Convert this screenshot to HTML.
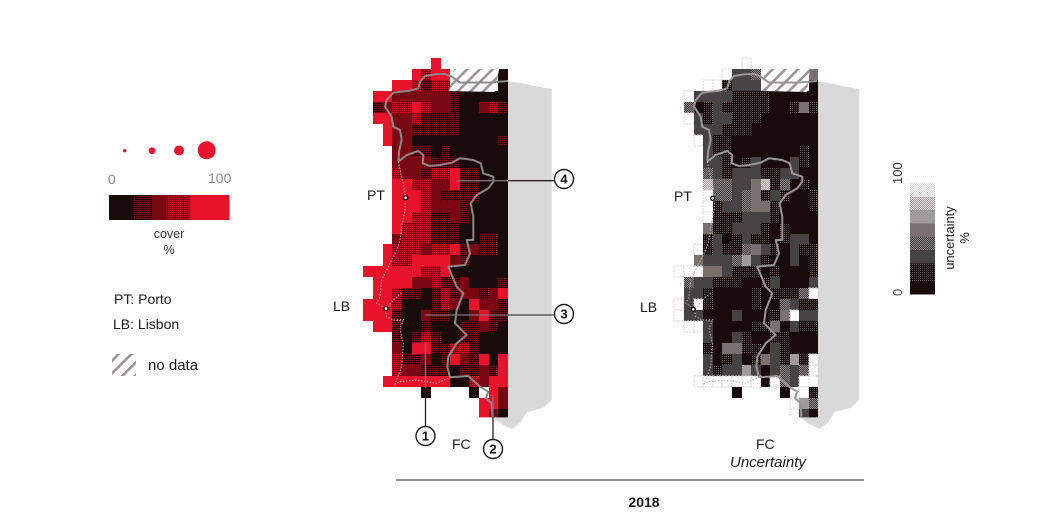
<!DOCTYPE html>
<html lang="en">
<head>
<meta charset="utf-8">
<title>Cover and uncertainty map 2018</title>
<style>
html,body{margin:0;padding:0;background:#fff;width:1052px;height:532px;overflow:hidden}
svg{display:block;font-family:"Liberation Sans",sans-serif}
</style>
</head>
<body>
<svg id="chart" xmlns="http://www.w3.org/2000/svg" width="1052" height="532" viewBox="0 0 1052 532">
<defs>
<pattern id="r1" width="2" height="2" patternUnits="userSpaceOnUse"><rect width="2" height="2" fill="#190b0b"/><rect width="1" height="1" fill="#a00a18"/></pattern>
<pattern id="r3" width="2" height="2" patternUnits="userSpaceOnUse"><rect width="2" height="2" fill="#7a0812"/><rect width="1" height="1" fill="#e8132a"/></pattern>
<pattern id="g1" width="2" height="2" patternUnits="userSpaceOnUse"><rect width="2" height="2" fill="#190b0b"/><rect width="1" height="1" fill="#5a5656"/></pattern>
<pattern id="g3" width="2" height="2" patternUnits="userSpaceOnUse"><rect width="2" height="2" fill="#454343"/><rect width="1" height="1" fill="#8a8080"/><rect x="1" y="1" width="1" height="1" fill="#8a8080"/></pattern>
<pattern id="g6" width="2" height="2" patternUnits="userSpaceOnUse"><rect width="2" height="2" fill="#a09a9a"/><rect width="1" height="1" fill="#e4e0e0"/><rect x="1" y="1" width="1" height="1" fill="#e4e0e0"/></pattern>
<pattern id="g7" width="2" height="2" patternUnits="userSpaceOnUse"><rect width="2" height="2" fill="#d4d4d4"/><rect width="1" height="1" fill="#ffffff"/><rect x="1" y="1" width="1" height="1" fill="#ffffff"/></pattern>
<pattern id="hatch" width="9" height="9" patternUnits="userSpaceOnUse" patternTransform="rotate(45)"><rect width="9" height="9" fill="#fff"/><rect width="2.6" height="9" fill="#9a9494"/></pattern>
<clipPath id="map-clip"><rect x="355" y="50" width="700" height="367.4"/></clipPath>
</defs>

<g id="left-land"><path fill="#d9d9d9" d="M505 81 L521 83 L540 87 L551.7 89 L551.7 400 L543 408 L527 412 L520 423 L512 429 L500 423 L493 417 L505 417 Z"/></g>
<g id="right-land"><path transform="translate(307.6 0)" fill="#d9d9d9" d="M505 81 L521 83 L540 87 L551.7 89 L551.7 400 L543 408 L527 412 L520 423 L512 429 L500 423 L493 417 L505 417 Z"/></g>

<g id="cover-cells" clip-path="url(#map-clip)"></g>
<g id="unc-cells" clip-path="url(#map-clip)"></g>

<polygon points="454,69 499,69 495,92 449,91" fill="url(#hatch)"/>
<polygon points="765,69 810,69 807,92 761,91" fill="url(#hatch)"/>

<g id="outlines" fill="none" stroke-linejoin="round"></g>

<g stroke-width="1.3">
<line x1="457" y1="180.7" x2="508" y2="180.7" stroke="#7a7474"/>
<line x1="508" y1="180.7" x2="554" y2="180.7" stroke="#2a2222"/>
<line x1="425" y1="315" x2="508" y2="315" stroke="#7a7474"/>
<line x1="508" y1="315" x2="554" y2="315" stroke="#444040"/>
<line x1="425.5" y1="342" x2="425.5" y2="388" stroke="#7a7474"/>
<line x1="425.5" y1="388" x2="425.5" y2="426" stroke="#2a2222"/>
<line x1="493" y1="395" x2="493" y2="417" stroke="#7a7474"/>
<line x1="493" y1="417" x2="493" y2="439" stroke="#2a2222"/>
</g>
<g fill="#fff" stroke="#1a1a1a" stroke-width="1.4">
<circle cx="564" cy="179" r="9.5"/>
<circle cx="564" cy="314" r="9.5"/>
<circle cx="425.5" cy="436" r="9.5"/>
<circle cx="493" cy="449" r="9.5"/>
</g>
<g font-size="13" font-weight="bold" fill="#111" text-anchor="middle">
<text x="564" y="183.5">4</text>
<text x="564" y="318.5">3</text>
<text x="425.5" y="440.5">1</text>
<text x="493" y="453.5">2</text>
</g>

<g fill="#fff" stroke="#111" stroke-width="1.4">
<circle cx="405.7" cy="197.8" r="2"/>
<circle cx="386" cy="308.5" r="2"/>
<circle cx="712.7" cy="198.3" r="2"/>
<circle cx="693.3" cy="309.3" r="2"/>
</g>

<g font-size="14" fill="#1a1a1a">
<text x="367" y="200">PT</text>
<text x="333" y="311">LB</text>
<text x="452" y="449">FC</text>
<text x="674" y="201">PT</text>
<text x="640" y="312">LB</text>
<text x="756" y="449">FC</text>
<text x="730" y="467" font-size="15" font-style="italic">Uncertainty</text>
</g>

<line x1="396" y1="480" x2="864" y2="480" stroke="#555" stroke-width="1.2"/>
<text x="644" y="507" font-size="14" font-weight="bold" fill="#1a1a1a" text-anchor="middle">2018</text>

<g fill="#e8132a">
<circle cx="124.7" cy="150.7" r="1.7"/>
<circle cx="152" cy="150.7" r="3.4"/>
<circle cx="179" cy="150.5" r="5"/>
<circle cx="206.7" cy="150.3" r="9"/>
</g>
<text x="108" y="184" font-size="14" fill="#8a8a8a">0</text>
<text x="208" y="183" font-size="14" fill="#8a8a8a">100</text>
<g id="cover-legend"></g>
<text x="169" y="238" font-size="12.5" fill="#333" text-anchor="middle">cover</text>
<text x="169" y="254" font-size="12.5" fill="#333" text-anchor="middle">%</text>

<text x="114" y="304" font-size="14" fill="#1a1a1a">PT: Porto</text>
<text x="113" y="329" font-size="14" fill="#1a1a1a">LB: Lisbon</text>
<rect x="112" y="354" width="24" height="22" fill="url(#hatch)"/>
<text x="148" y="370" font-size="15" fill="#1a1a1a">no data</text>

<g id="unc-legend"></g>
<text transform="translate(902 184) rotate(-90)" font-size="13" fill="#333">100</text>
<text transform="translate(902 296) rotate(-90)" font-size="13" fill="#555">0</text>
<text transform="translate(954 238) rotate(-90)" font-size="13" fill="#222" text-anchor="middle">uncertainty</text>
<text transform="translate(969 238) rotate(-90)" font-size="13" fill="#222" text-anchor="middle">%</text>
</svg>

<script>
var _ = null;
var coverRows = [
[_,_,_,_,_,_,_,90,_,_,_,_,_,_,_],
[_,_,_,_,_,90,65,90,90,_,_,_,_,_,10],
[_,_,_,90,90,65,30,65,65,_,_,_,_,_,10],
[_,90,90,48,48,48,48,48,48,30,10,10,10,10,10],
[_,30,48,65,65,80,65,48,48,30,10,10,48,65,30],
[_,90,90,48,48,65,30,30,30,30,10,10,10,10,10],
[_,_,90,48,48,30,30,30,30,30,10,10,10,10,10],
[_,_,90,48,48,10,10,10,10,10,10,10,10,10,30],
[_,_,_,48,40,30,30,10,30,10,10,10,10,10,10],
[_,_,_,48,48,48,40,30,30,30,10,10,10,10,10],
[_,_,_,65,48,48,30,55,65,90,30,30,10,10,10],
[_,_,_,90,90,65,65,48,48,90,30,30,10,10,10],
[_,_,_,90,90,90,65,48,30,30,30,30,10,10,10],
[_,_,_,90,90,90,60,48,48,48,30,10,10,10,10],
[_,_,_,90,90,65,60,30,30,48,30,10,10,10,10],
[_,_,_,90,65,65,65,30,30,30,10,10,10,10,10],
[_,_,_,48,65,65,65,30,30,30,10,10,30,30,10],
[_,_,90,65,65,60,48,65,65,90,30,48,30,30,10],
[_,_,90,65,65,90,90,90,90,48,30,10,10,10,10],
[90,90,90,90,90,90,65,65,90,10,10,10,10,10,10],
[_,90,90,90,90,48,40,65,30,30,48,10,10,10,30],
[_,90,90,65,30,30,10,30,65,30,48,48,30,48,90],
[90,90,90,65,10,10,10,30,65,48,10,90,48,48,30],
[90,90,90,30,10,10,48,30,30,10,10,48,90,30,30],
[_,90,90,30,10,10,30,10,10,10,30,30,48,30,10],
[_,_,_,30,10,30,65,30,10,10,30,30,10,10,10],
[_,_,_,48,10,90,90,30,30,65,65,30,10,10,10],
[_,_,_,65,30,30,48,10,30,90,48,30,90,10,90],
[_,_,_,65,48,48,30,30,30,10,30,30,48,30,90],
[_,_,90,90,90,90,90,90,90,10,10,65,48,90,90],
[_,_,_,_,_,_,10,_,_,_,_,10,_,90,48],
[_,_,_,_,_,_,_,_,_,_,_,_,90,90,48],
[_,_,_,_,_,_,_,_,_,_,_,_,90,48,10]
];
var uncertaintyRows = [
[_,_,_,_,_,_,_,100,_,_,_,_,_,_,_],
[_,_,_,_,_,100,32,32,45,_,_,_,_,_,58],
[_,_,_,100,100,20,32,32,32,_,_,_,_,_,8],
[_,100,32,32,32,32,20,20,20,20,8,8,8,8,8],
[_,45,8,20,32,20,20,20,20,20,8,8,20,58,20],
[_,100,32,20,32,32,20,20,20,8,8,8,8,8,8],
[_,_,32,32,32,20,20,20,8,8,8,8,8,8,8],
[_,_,100,32,20,20,8,8,8,8,8,8,8,8,8],
[_,_,_,32,20,20,8,8,8,8,8,8,8,20,8],
[_,_,_,32,32,20,8,20,32,8,8,8,32,20,8],
[_,_,_,45,32,20,32,32,32,20,20,32,32,8,8],
[_,_,_,85,45,45,32,32,58,85,20,45,8,20,8],
[_,_,_,100,45,45,32,45,58,20,32,20,8,8,20],
[_,_,_,100,20,32,32,45,58,58,20,8,8,8,20],
[_,_,_,100,20,20,20,32,32,32,20,8,8,8,8],
[_,_,_,58,20,20,32,32,32,20,8,20,8,8,8],
[_,_,_,20,32,8,20,32,20,20,8,20,32,32,8],
[_,_,100,20,32,20,20,45,58,32,20,8,32,20,20],
[_,_,58,32,32,32,45,70,32,20,8,8,32,8,20],
[100,100,100,58,58,32,20,20,20,8,20,8,8,8,20],
[_,45,32,32,20,20,20,8,8,20,32,8,8,8,32],
[_,32,32,20,8,8,8,8,20,8,20,20,20,45,100],
[100,32,100,20,8,8,8,8,20,8,8,45,32,20,20],
[100,32,32,8,8,8,32,8,8,8,20,58,100,32,32],
[_,100,100,32,8,8,8,8,20,20,58,8,32,20,20],
[_,_,_,32,8,8,32,20,8,8,20,20,8,8,8],
[_,_,_,20,8,58,58,20,20,8,32,20,8,8,8],
[_,_,_,32,8,20,32,8,20,58,32,20,70,20,100],
[_,_,_,32,20,32,32,70,32,8,32,45,32,45,100],
[_,_,100,100,100,100,100,100,100,8,100,45,32,100,100],
[_,_,_,_,_,_,8,_,_,_,_,8,_,100,20],
[_,_,_,_,_,_,_,_,_,_,_,_,100,70,45],
[_,_,_,_,_,_,_,_,_,_,_,_,100,32,8]
];
var legendCover = [0,4,8,12,16,20,24,28,32,36,40,44,48,52,56,60,64,68,72,76,80,84,88,92,96,100];
var legendUncertainty = [0,4,8,12,16,20,24,28,32,36,40,44,48,52,56,60,64,68,72,76,80,84,88,92,96,100];

var NS = 'http://www.w3.org/2000/svg';

function colorCover(v){
  if (v < 22) return '#190b0b';
  if (v < 38) return 'url(#r1)';
  if (v < 50) return '#7a0812';
  if (v < 67) return 'url(#r3)';
  return '#e8132a';
}
function colorUnc(v){
  if (v < 14) return '#190b0b';
  if (v < 28) return 'url(#g1)';
  if (v < 40) return '#454343';
  if (v < 54) return 'url(#g3)';
  if (v < 64) return '#7a7070';
  if (v < 78) return '#a09a9a';
  if (v < 90) return 'url(#g6)';
  if (v < 99) return 'url(#g7)';
  return '#ffffff';
}
function rowY(r){ return 58.3 + 10.95 * r; }
function colX(x0, w, c){ return x0 + w * c; }

function drawMap(gId, rows, x0, w, colorFn, outlineWhite){
  var g = document.getElementById(gId);
  rows.forEach(function(row, r){
    row.forEach(function(v, c){
      if (v === null) return;
      var x1 = Math.round(colX(x0, w, c)), x2 = Math.round(colX(x0, w, c + 1));
      var y1 = Math.round(rowY(r)), y2 = Math.round(rowY(r + 1));
      var el = document.createElementNS(NS, 'rect');
      
      
      el.setAttribute('x', x1);
      el.setAttribute('y', y1);
      el.setAttribute('width', x2 - x1);
      el.setAttribute('height', y2 - y1);
      el.setAttribute('fill', colorFn(v));
      el.setAttribute('shape-rendering', 'crispEdges');
      if (outlineWhite && v >= 95) {
        el.setAttribute('stroke', '#d4d4d4');
        el.setAttribute('stroke-width', '1');
        el.setAttribute('stroke-dasharray', '2 1');
      }
      g.appendChild(el);
    });
  });
}
drawMap('cover-cells', coverRows, 363.4, 9.64, colorCover, false);
drawMap('unc-cells', uncertaintyRows, 674.4, 9.6, colorUnc, true);

function drawLegendH(){
  var g = document.getElementById('cover-legend');
  var x = function(v){ return 109 + 120 * v / 100; };
  legendCover.forEach(function(v, i){
    if (i === legendCover.length - 1) return;
    var next = legendCover[i + 1];
    var el = document.createElementNS(NS, 'rect');
    
    
    el.setAttribute('x', x(v));
    el.setAttribute('y', 195);
    el.setAttribute('width', x(next) - x(v) + 0.5);
    el.setAttribute('height', 25);
    el.setAttribute('fill', colorCover((v + next) / 2));
    el.setAttribute('shape-rendering', 'crispEdges');
    g.appendChild(el);
  });
}
function drawLegendV(){
  var g = document.getElementById('unc-legend');
  var y = function(v){ return 294 - 111 * v / 100; };
  legendUncertainty.forEach(function(v, i){
    if (i === legendUncertainty.length - 1) return;
    var next = legendUncertainty[i + 1];
    var el = document.createElementNS(NS, 'rect');
    
    
    el.setAttribute('x', 910);
    el.setAttribute('y', y(next));
    el.setAttribute('width', 25);
    el.setAttribute('height', y(v) - y(next) + 0.5);
    el.setAttribute('fill', colorUnc((v + next) / 2));
    el.setAttribute('shape-rendering', 'crispEdges');
    g.appendChild(el);
  });
}
drawLegendH();
drawLegendV();

/* country boundary geometry in page pixels (left map), reused for the right map */
var northPath = 'M508 81 L490 82.5 L460 82.5 L451.7 76.7 L445 74 L435 74.3 L425 76 L420 81.7 L418.3 88.3 L410 90.7 L400 91.7 L393.3 92.7 L386.7 100 L385 106.7 L391.7 116.7 L393.3 126.7 L400 130 L401.7 140 L399.3 150 L398.3 161.7';
var borderPath = 'M398.3 161.7 L406.7 155 L418.3 151 L423.3 155 L422.7 163.3 L430 166 L440 165 L451.7 162.7 L460 158.3 L473.3 160 L480.7 163.3 L483.3 173.3 L493.3 176.7 L493.3 181.7 L488.3 188.3 L476.7 195 L470.7 203.3 L473.3 216.7 L473.3 240 L466.7 240 L470 253.3 L465 265 L448.3 266.7 L451.7 275 L456.7 286.7 L463.3 293.3 L456.7 310 L455 323.3 L466.7 335 L456.7 343.3 L448.3 356.7 L447.3 366.7 L450 377.3 L468.3 376 L480 386.7 L488.3 391.7 L486 398.3 L491.7 403.3 L492.3 416.7';
var coastPath = 'M398.3 161.7 L400 170 L403.3 183.3 L405.7 197.8 L405 210 L401.7 226.7 L400 240 L396.7 250 L390 263.3 L381.7 280 L380 296.7 L376.7 303.3 L385 308.3 L386.7 316.7 L393.3 320 L405 319.3 M386 309 L395 298.3 L401.7 293.3 M393.3 320 L403.3 321 L400 328 L403.3 343.3 L401.7 366.7 L395 384 L400 381.7 L416.7 380 L436.7 383.3 L450 377.3';

function drawOutline(dx, name1, color, coastColor){
  var g = document.getElementById('outlines');
  [[northPath, 2, null, color], [borderPath, 2, null, color], [coastPath, 1, '1.4 1.6', coastColor]].forEach(function(p){
    var el = document.createElementNS(NS, 'path');
    
    
    el.setAttribute('d', p[0]);
    el.setAttribute('transform', 'translate(' + dx + ' 0)');
    el.setAttribute('stroke', p[3]);
    el.setAttribute('stroke-width', p[1]);
    if (p[2]) el.setAttribute('stroke-dasharray', p[2]);
    g.appendChild(el);
  });
}
drawOutline(0, 'cover-map-outline', '#8c8888', '#c8b8b8');
drawOutline(309, 'uncertainty-map-outline', '#9a9696', '#b0acac');
</script>
</body>
</html>
